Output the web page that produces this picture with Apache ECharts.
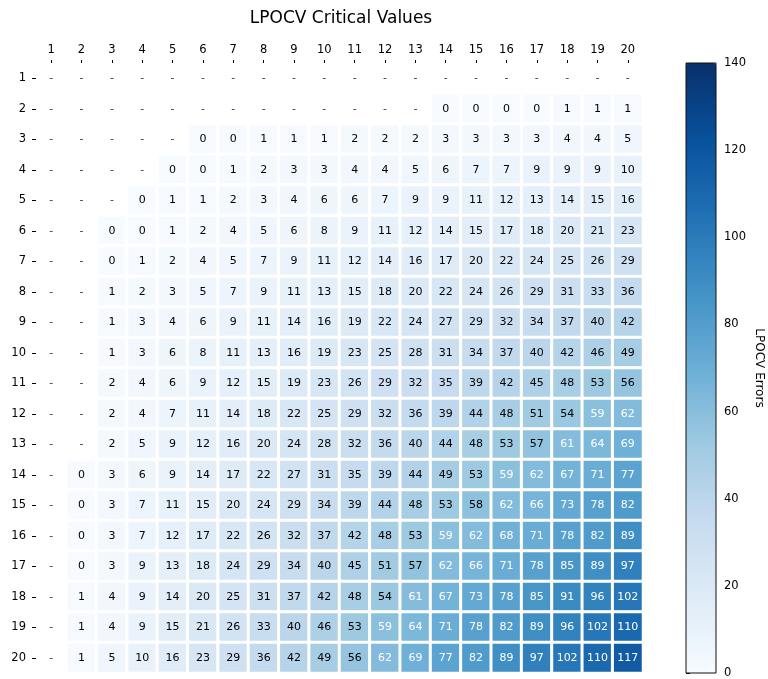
<!DOCTYPE html>
<html>
<head>
<meta charset="utf-8">
<script src="https://cdn.jsdelivr.net/npm/echarts@6/dist/echarts.min.js"></script>
<style>
html,body{margin:0;padding:0;background:#fff;}
#chart{width:768px;height:679px;}
</style>
</head>
<body>
<div id="chart"></div>
<script>
const colLabels = ['1','2','3','4','5','6','7','8','9','10','11','12','13','14','15','16','17','18','19','20'];
const rowLabels = ['1','2','3','4','5','6','7','8','9','10','11','12','13','14','15','16','17','18','19','20'];
const colorbarTicks = [0, 20, 40, 60, 80, 100, 120, 140];
const N = null;
const row01 = [N,N,N,N,N,N,N,N,N,N,N,N,N,N,N,N,N,N,N,N];
const row02 = [N,N,N,N,N,N,N,N,N,N,N,N,N,0,0,0,0,1,1,1];
const row03 = [N,N,N,N,N,0,0,1,1,1,2,2,2,3,3,3,3,4,4,5];
const row04 = [N,N,N,N,0,0,1,2,3,3,4,4,5,6,7,7,9,9,9,10];
const row05 = [N,N,N,0,1,1,2,3,4,6,6,7,9,9,11,12,13,14,15,16];
const row06 = [N,N,0,0,1,2,4,5,6,8,9,11,12,14,15,17,18,20,21,23];
const row07 = [N,N,0,1,2,4,5,7,9,11,12,14,16,17,20,22,24,25,26,29];
const row08 = [N,N,1,2,3,5,7,9,11,13,15,18,20,22,24,26,29,31,33,36];
const row09 = [N,N,1,3,4,6,9,11,14,16,19,22,24,27,29,32,34,37,40,42];
const row10 = [N,N,1,3,6,8,11,13,16,19,23,25,28,31,34,37,40,42,46,49];
const row11 = [N,N,2,4,6,9,12,15,19,23,26,29,32,35,39,42,45,48,53,56];
const row12 = [N,N,2,4,7,11,14,18,22,25,29,32,36,39,44,48,51,54,59,62];
const row13 = [N,N,2,5,9,12,16,20,24,28,32,36,40,44,48,53,57,61,64,69];
const row14 = [N,0,3,6,9,14,17,22,27,31,35,39,44,49,53,59,62,67,71,77];
const row15 = [N,0,3,7,11,15,20,24,29,34,39,44,48,53,58,62,66,73,78,82];
const row16 = [N,0,3,7,12,17,22,26,32,37,42,48,53,59,62,68,71,78,82,89];
const row17 = [N,0,3,9,13,18,24,29,34,40,45,51,57,62,66,71,78,85,89,97];
const row18 = [N,1,4,9,14,20,25,31,37,42,48,54,61,67,73,78,85,91,96,102];
const row19 = [N,1,4,9,15,21,26,33,40,46,53,59,64,71,78,82,89,96,102,110];
const row20 = [N,1,5,10,16,23,29,36,42,49,56,62,69,77,82,89,97,102,110,117];
const rows = [row01,row02,row03,row04,row05,row06,row07,row08,row09,row10,
              row11,row12,row13,row14,row15,row16,row17,row18,row19,row20];

const FONT = 'DejaVu Sans';
const heatData = [];
const dashData = [];
rows.forEach(function (r, yi) {
  r.forEach(function (v, xi) {
    if (v === null) {
      dashData.push([xi, yi]);
    } else {
      heatData.push({
        value: [xi, yi, v],
        label: { color: v >= 59 ? '#ffffff' : '#000000' }
      });
    }
  });
});

const chart = echarts.init(document.getElementById('chart'), null, { renderer: 'canvas' });
chart.setOption({
  animation: false,
  backgroundColor: '#ffffff',
  textStyle: { fontFamily: FONT },
  title: {
    text: 'LPOCV Critical Values',
    left: 341,
    textAlign: 'center',
    top: 10,
    padding: 0,
    textStyle: { fontFamily: FONT, fontSize: 17, fontWeight: 'normal', color: '#000' }
  },
  grid: [
    { left: 36, top: 63, width: 607, height: 610 },
    { left: 686, top: 63, width: 30, height: 610, show: true, z: 10,
      borderColor: '#111', borderWidth: 1, backgroundColor: 'transparent' }
  ],
  xAxis: [
    {
      type: 'category', data: colLabels, position: 'top', gridIndex: 0,
      axisLine: { show: false },
      axisTick: { show: true, alignWithLabel: true, length: 3, lineStyle: { color: '#000' } },
      axisLabel: { margin: 7, fontSize: 11.5, color: '#000', fontFamily: FONT },
      splitLine: { show: false }, splitArea: { show: false }
    },
    { type: 'value', gridIndex: 1, show: false, min: 0, max: 1 }
  ],
  yAxis: [
    {
      type: 'category', data: rowLabels, inverse: true, gridIndex: 0,
      axisLine: { show: false },
      axisTick: { show: true, alignWithLabel: true, length: 4, lineStyle: { color: '#000' } },
      axisLabel: { margin: 10, fontSize: 11.5, color: '#000', fontFamily: FONT },
      splitLine: { show: false }, splitArea: { show: false }
    },
    {
      type: 'value', gridIndex: 1, position: 'right',
      min: colorbarTicks[0], max: colorbarTicks[colorbarTicks.length - 1], interval: 20,
      axisLine: { show: false },
      axisTick: { show: true, length: 4, lineStyle: { color: '#000' } },
      axisLabel: { margin: 8, fontSize: 11.5, color: '#000', fontFamily: FONT },
      splitLine: { show: false },
      name: 'LPOCV Errors', nameLocation: 'middle', nameRotate: -90, nameGap: 37,
      nameTextStyle: { fontSize: 12, color: '#000', fontFamily: FONT }
    }
  ],
  visualMap: {
    type: 'continuous',
    min: 0, max: 140,
    seriesIndex: 0,
    dimension: 2,
    calculable: false,
    orient: 'vertical',
    left: 686, top: 63,
    padding: 0,
    itemWidth: 30, itemHeight: 610,
    inRange: { color: ['#f7fbff','#deebf7','#c6dbef','#9ecae1','#6baed6','#4292c6','#2171b5','#08519c','#08306b'] }
  },
  series: [
    {
      type: 'heatmap',
      xAxisIndex: 0, yAxisIndex: 0,
      data: heatData,
      itemStyle: { borderColor: '#ffffff', borderWidth: 3 },
      label: { show: true, fontSize: 11, fontFamily: FONT,
        formatter: function (p) { return String(p.value[2]); } },
      emphasis: { disabled: true }
    },
    {
      type: 'scatter',
      xAxisIndex: 0, yAxisIndex: 0,
      data: dashData,
      symbol: 'rect', symbolSize: 1,
      itemStyle: { color: 'rgba(0,0,0,0)' },
      label: { show: true, position: 'inside', formatter: '-', fontSize: 11, color: '#000', fontFamily: FONT },
      emphasis: { disabled: true },
      silent: true
    }
  ]
});
</script>
</body>
</html>
